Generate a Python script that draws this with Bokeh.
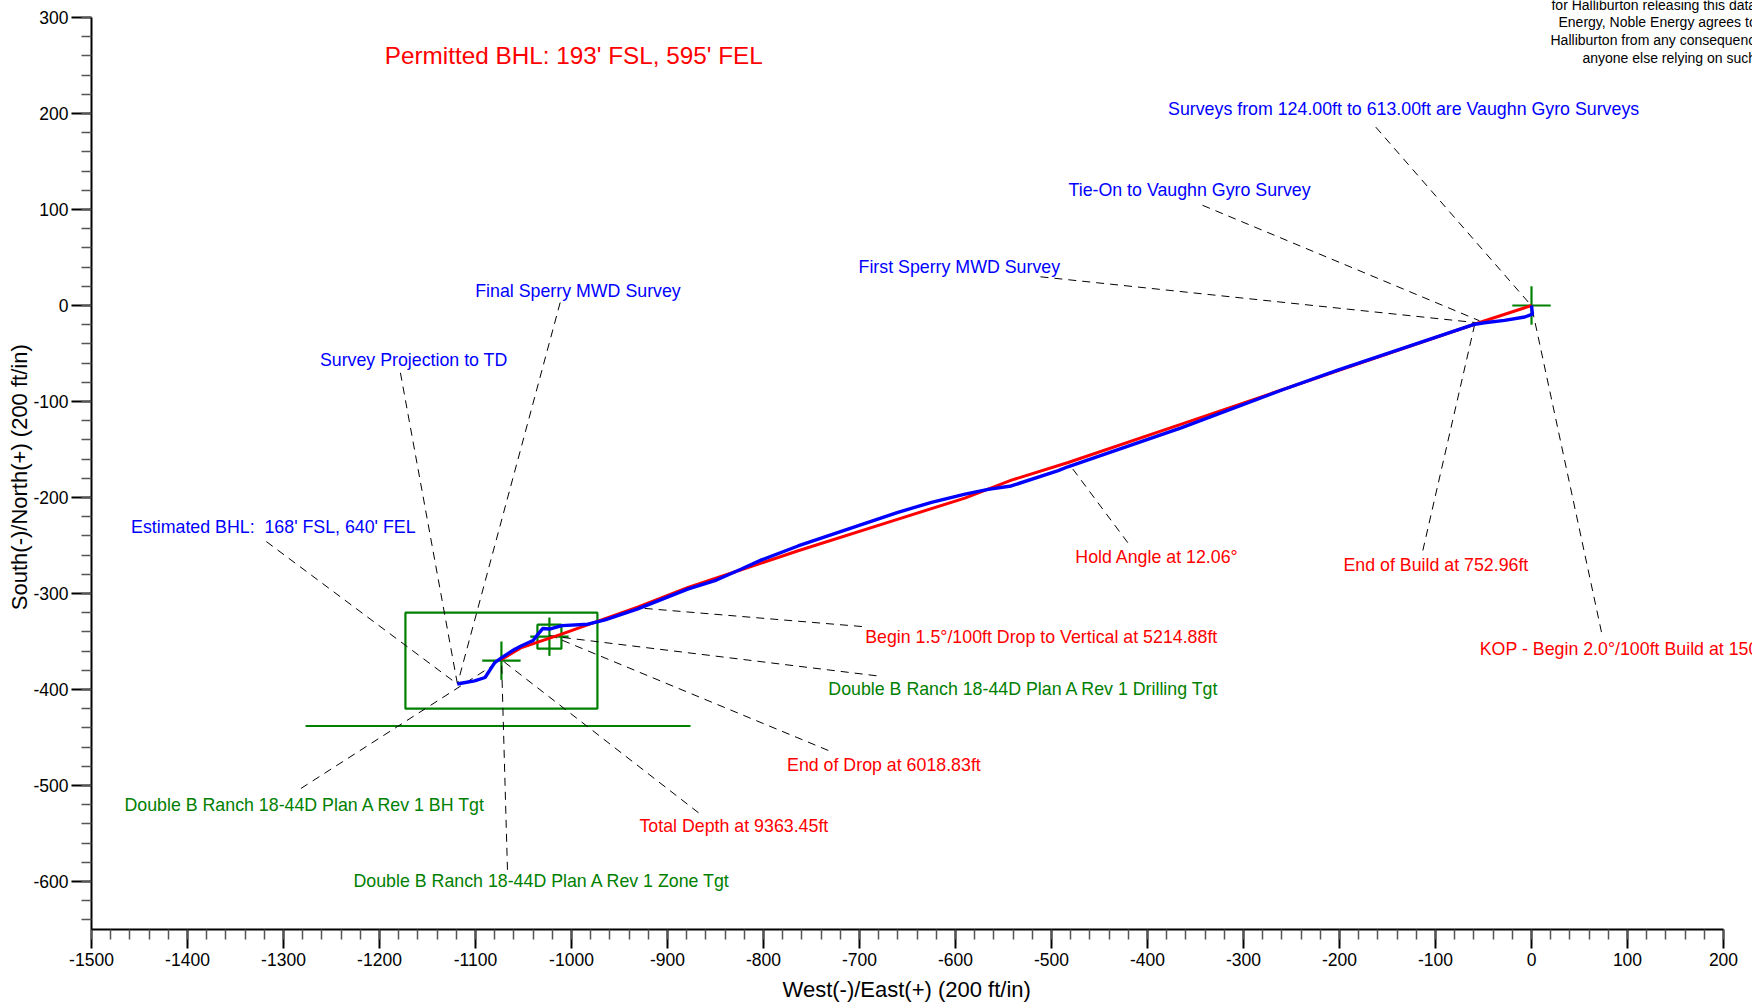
from bokeh.plotting import figure
from bokeh.models import SingleIntervalTicker, Range1d, ColumnDataSource, CustomJSTickFormatter
from bokeh.embed import file_html
from bokeh.resources import INLINE
from bokeh.core.properties import value

FONT = "Liberation Sans"
RED = "#FF0000"
BLUE = "#0000FF"
GREEN = "#008000"
BLACK = "#000000"

# ---- Plan (red) trajectory, plan view (ft)
plan_x = [0, -48.6, -201.4, -364.6, -482.6, -541.7, -590.3, -659.7, -763.9, -878.5,
          -930.5, -1010.4, -1052.0, -1073.5]
plan_y = [0, -15.9, -67.9, -123.5, -163.5, -181.9, -200.6, -222.5, -255.5, -293.7,
          -313.9, -342.3, -356.3, -369.0]

# ---- Actual surveys (blue)
svy_x = [0, 1, -7, -28, -49, -59, -201, -260, -365, -483, -493, -542, -566, -590,
         -625, -660, -712, -764, -802, -823, -849, -879, -931, -965, -983, -1010,
         -1023, -1030, -1035, -1040, -1052, -1059, -1073, -1080, -1090, -1101,
         -1115, -1119]
svy_y = [0, -9, -12, -15.5, -18, -19.5, -67, -88, -127.5, -168, -172, -188, -191.5,
         -196.5, -205, -215.5, -233, -250.5, -265, -274.5, -286, -295.5, -316,
         -327.5, -332, -333.5, -337, -336.5, -342.5, -349, -354.5, -358, -367,
         -372, -387.5, -391, -393.5, -394.5]

# ---- Targets
zone_center = (-1073, -370)
zone_half = (100, 50)
bh_line_x = [-1277, -876]
bh_line_y = [-438, -438]
drill_center = (-1023, -345)
drill_half = 12.5
cross_half = 20
origin = (0, 0)

# ---- Annotations: text, colour, text anchor (x, y), leader (from, to)
annotations = [
    ("Surveys from 124.00ft to 613.00ft are Vaughn Gyro Surveys", BLUE, -378.6, 204.5, (-162.2, 185.8), (0, -0.3)),
    ("Tie-On to Vaughn Gyro Survey", BLUE, -482.3, 120.7, (-342.7, 104.4), (-54.2, -15.9)),
    ("First Sperry MWD Survey", BLUE, -701.0, 40.4, (-511.5, 29.9), (-56.3, -18.0)),
    ("Final Sperry MWD Survey", BLUE, -1100.3, 14.8, (-1011.8, 3.1), (-1118.8, -394.4)),
    ("Survey Projection to TD", BLUE, -1262.1, -56.3, (-1178.2, -70.1), (-1118.8, -394.4)),
    ("Estimated BHL:\u00a0 168' FSL, 640' FEL", BLUE, -1458.8, -230.8, (-1317.9, -245.9), (-1118.8, -394.4)),
    ("Hold Angle at 12.06\u00b0", RED, -475.2, -262.2, (-420.5, -247.1), (-482.6, -163.9)),
    ("End of Build at 752.96ft", RED, -195.9, -270.4, (-113.2, -255.2), (-59.1, -19.4)),
    ("Begin 1.5\u00b0/100ft Drop to Vertical at 5214.88ft", RED, -694.1, -344.9, (-697.5, -334.4), (-931.3, -314.9)),
    ("KOP - Begin 2.0\u00b0/100ft Build at 150.00ft", RED, -53.9, -357.6, (72.9, -340.2), (0, -0.3)),
    ("Double B Ranch 18-44D Plan A Rev 1 Drilling Tgt", GREEN, -732.5, -399.6, (-682.3, -385.7), (-1022.9, -344.1)),
    ("End of Drop at 6018.83ft", RED, -775.5, -478.8, (-732.5, -463.5), (-1020.8, -344.1)),
    ("Double B Ranch 18-44D Plan A Rev 1 BH Tgt", GREEN, -1465.7, -520.6, (-1281.9, -503.1), (-1072.9, -369.1)),
    ("Total Depth at 9363.45ft", RED, -929.2, -542.7, (-867.7, -528.4), (-1072.9, -369.1)),
    ("Double B Ranch 18-44D Plan A Rev 1 Zone Tgt", GREEN, -1227.1, -599.8, (-1066.7, -587.8), (-1072.9, -369.1)),
]

disclaimer = [
    ("for Halliburton releasing this data to Noble", 20.8, 313.2),
    ("Energy, Noble Energy agrees to release", 28.1, 294.8),
    ("Halliburton from any consequences of", 19.8, 276.5),
    ("anyone else relying on such data.", 53.1, 257.7),
]

x_title = "West(-)/East(+) (200 ft/in)"
y_title = "South(-)/North(+) (200 ft/in)"

# ---- Figure geometry (equal scale 0.96 px per ft)
W, H = 1752, 1005
LEFT, BOTTOM = 91, 76
SCALE = 0.96
x0, y0 = -1500, -650
x1 = x0 + (W - LEFT) / SCALE
y1 = y0 + (H - BOTTOM) / SCALE

p = figure(width=W, height=H, x_range=Range1d(x0, x1), y_range=Range1d(y0, y1),
           output_backend="svg", toolbar_location=None,
           min_border_left=LEFT, min_border_bottom=BOTTOM,
           min_border_top=0, min_border_right=0)
p.outline_line_color = None
p.grid.visible = False
p.background_fill_color = "white"
p.border_fill_color = "white"

fmt = CustomJSTickFormatter(code="return tick.toFixed(0);")
for ax, bnds in ((p.xaxis, (-1500, 200)), (p.yaxis, (-650, 300))):
    ax.ticker = SingleIntervalTicker(interval=100, num_minor_ticks=5)
    ax.formatter = fmt
    ax.bounds = bnds
    ax.axis_line_width = 2
    ax.axis_line_color = BLACK
    ax.major_tick_in = 0
    ax.minor_tick_in = 0
    ax.minor_tick_out = 10
    ax.major_tick_line_width = 2
    ax.major_tick_line_color = BLACK
    ax.minor_tick_line_width = 1.5
    ax.minor_tick_line_color = "#555555"
    ax.major_label_text_font = FONT
    ax.major_label_text_font_size = "17.5px"
    ax.major_label_text_color = BLACK
    ax.axis_label_text_font = FONT
    ax.axis_label_text_font_size = "22px"
    ax.axis_label_text_font_style = "normal"
    ax.axis_label_text_color = BLACK
p.xaxis.major_tick_out = 19
p.yaxis.major_tick_out = 20
p.xaxis.major_label_standoff = 4
p.yaxis.major_label_standoff = 3
# the titles are centred on the axis span (-1500..200 / -650..300), not on the frame:
# trailing non-breaking spaces pad the label so its visible part sits there
p.xaxis.axis_label = x_title + "\u00a0" * 5
p.yaxis.axis_label = y_title + "\u00a0" * 4
p.xaxis.axis_label_standoff = 8
p.yaxis.axis_label_standoff = -2

# ---- Targets (green)
zx, zy = zone_center
hx, hy = zone_half
p.quad(left=[zx - hx], right=[zx + hx], bottom=[zy - hy], top=[zy + hy],
       fill_alpha=0, line_color=GREEN, line_width=2.2)
p.line(bh_line_x, bh_line_y, line_color=GREEN, line_width=2.2)
dx, dy = drill_center
p.quad(left=[dx - drill_half], right=[dx + drill_half], bottom=[dy - drill_half],
       top=[dy + drill_half], fill_alpha=0, line_color=GREEN, line_width=2.2)
cx = [c[0] for c in (origin, drill_center, zone_center)]
cy = [c[1] for c in (origin, drill_center, zone_center)]
p.segment(x0=[c - cross_half for c in cx], x1=[c + cross_half for c in cx], y0=cy, y1=cy,
          line_color=GREEN, line_width=2.2)
p.segment(x0=cx, x1=cx, y0=[c - cross_half for c in cy], y1=[c + cross_half for c in cy],
          line_color=GREEN, line_width=2.2)

# ---- Leader lines
p.multi_line(xs=[[a[4][0], a[5][0]] for a in annotations],
             ys=[[a[4][1], a[5][1]] for a in annotations],
             line_color=BLACK, line_width=1, line_dash="8 6")

# ---- Trajectories
p.line(plan_x, plan_y, line_color=RED, line_width=3)
p.line(svy_x, svy_y, line_color=BLUE, line_width=3.4)

# ---- Annotation texts
src = ColumnDataSource(dict(x=[a[2] for a in annotations], y=[a[3] for a in annotations],
                            text=[a[0] for a in annotations], color=[a[1] for a in annotations]))
p.text(x="x", y="y", text="text", text_color="color", source=src,
       text_font=value(FONT), text_font_size=value("17.8px"),
       text_align="left", text_baseline="middle")

p.text(x=[-1194.5], y=[260.2], text=["Permitted BHL: 193' FSL, 595' FEL"],
       text_color=RED, text_font=value(FONT), text_font_size=value("24.3px"),
       text_align="left", text_baseline="middle")

p.text(x=[d[1] for d in disclaimer], y=[d[2] for d in disclaimer],
       text=[d[0] for d in disclaimer], text_color=BLACK, text_font=value(FONT),
       text_font_size=value("14px"), text_align="left", text_baseline="middle")

open("out.html", "w").write(file_html(p, INLINE))
